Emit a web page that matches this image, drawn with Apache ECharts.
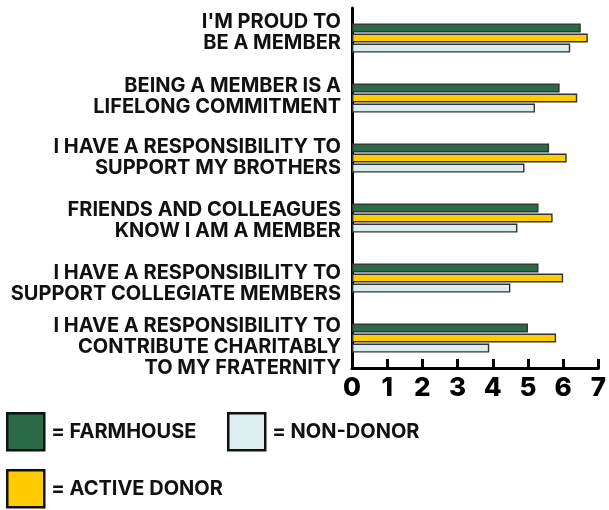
<!DOCTYPE html>
<html>
<head>
<meta charset="utf-8">
<script src="https://cdn.jsdelivr.net/npm/echarts@6/dist/echarts.min.js"></script>
<style>
  html, body { margin: 0; padding: 0; background: #fff; }
  #chart { width: 609px; height: 510px; }
</style>
</head>
<body>
<div id="chart"></div>
<script>
// statements, top to bottom
var categories = [
  "I'M PROUD TO\nBE A MEMBER",
  'BEING A MEMBER IS A\nLIFELONG COMMITMENT',
  'I HAVE A RESPONSIBILITY TO\nSUPPORT MY BROTHERS',
  'FRIENDS AND COLLEAGUES\nKNOW I AM A MEMBER',
  'I HAVE A RESPONSIBILITY TO\nSUPPORT COLLEGIATE MEMBERS',
  'I HAVE A RESPONSIBILITY TO\nCONTRIBUTE CHARITABLY\nTO MY FRATERNITY'
]
var farmhouse = [6.5, 5.9, 5.6, 5.3, 5.3, 5.0]
var activeDonor = [6.7, 6.4, 6.1, 5.7, 6.0, 5.8]
var nonDonor = [6.2, 5.2, 4.9, 4.7, 4.5, 3.9]
var xTicks = [0, 1, 2, 3, 4, 5, 6, 7]

// the original labels are not quite centred on their bars, shift them a bit (px)
var labelNudge = [-6, -2, -1, 2, 5, 9]

var labelFont = 'Inter'
var chart = echarts.init(document.getElementById('chart'))

var rich = {
  t: { fontFamily: labelFont, fontWeight: 'bold', fontSize: 20, lineHeight: 21, color: '#111', align: 'right' }
}
labelNudge.forEach(function (s, i) {
  rich['g' + i] = { fontSize: 1, lineHeight: Math.max(1, Math.abs(s) * 2) }
})

function wrapLabel (value, index) {
  var body = value.split('\n').map(function (l) { return '{t|' + l + '}' }).join('\n')
  var s = labelNudge[index] || 0
  if (s < 0) return body + '\n{g' + index + '| }'
  if (s > 0) return '{g' + index + '| }\n' + body
  return body
}

function legendFor (name, left, top) {
  return {
    data: [name],
    left: left,
    top: top,
    padding: 0,
    orient: 'horizontal',
    itemWidth: 37,
    itemHeight: 37,
    icon: 'rect',
    selectedMode: false,
    itemStyle: { borderColor: '#111', borderWidth: 2.5 },
    formatter: function (n) { return '= ' + n.toUpperCase() },
    textStyle: { fontFamily: labelFont, fontWeight: 'bold', fontSize: 20, color: '#111', padding: [0, 0, 0, 2] }
  }
}

function barSeries (name, values, color) {
  return {
    name: name,
    type: 'bar',
    data: values,
    barWidth: 9,
    barGap: '12%',
    itemStyle: { color: color, borderColor: '#333', borderWidth: 1.4 },
    emphasis: { disabled: true }
  }
}

chart.setOption({
  animation: false,
  grid: { left: 352, right: 8, top: 8, height: 360 },
  legend: [
    legendFor('FarmHouse', 6, 412),
    legendFor('Non-Donor', 227, 412),
    legendFor('Active Donor', 6, 469)
  ],
  xAxis: {
    type: 'value',
    min: xTicks[0],
    max: xTicks[xTicks.length - 1],
    interval: 1,
    axisLine: { show: true, lineStyle: { color: '#000', width: 3 } },
    axisTick: { show: true, inside: true, length: 9, lineStyle: { color: '#000', width: 3 } },
    splitLine: { show: false },
    axisLabel: {
      margin: 7,
      fontFamily: labelFont,
      fontWeight: 800,
      fontSize: 26,
      color: '#000',
      formatter: function (v) { return xTicks.indexOf(v) >= 0 ? String(v) : '' }
    }
  },
  yAxis: {
    type: 'category',
    inverse: true,
    data: categories,
    axisLine: { show: true, lineStyle: { color: '#000', width: 3 } },
    axisTick: { show: false },
    axisLabel: {
      margin: 11,
      fontFamily: labelFont,
      fontWeight: 'bold',
      fontSize: 20,
      color: '#111',
      align: 'right',
      formatter: wrapLabel,
      rich: rich
    }
  },
  series: [
    barSeries('FarmHouse', farmhouse, '#2b6a47'),
    barSeries('Active Donor', activeDonor, '#ffcc00'),
    barSeries('Non-Donor', nonDonor, '#dcedf0')
  ]
})
</script>
</body>
</html>
